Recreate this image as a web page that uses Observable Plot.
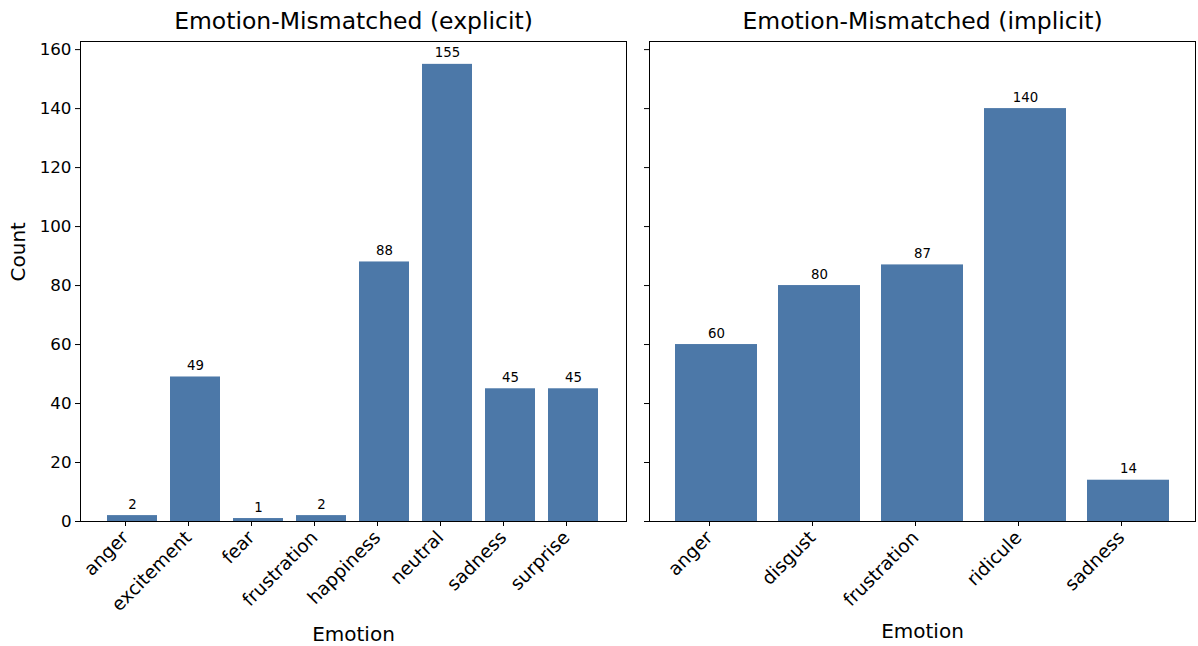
<!DOCTYPE html>
<html>
<head>
<meta charset="utf-8">
<script src="https://cdn.jsdelivr.net/npm/d3@7"></script>
<script src="https://cdn.jsdelivr.net/npm/@observablehq/plot@0.6"></script>
<style>
  html, body { margin: 0; padding: 0; background: #fff; }
  #wrap { position: relative; width: 1198px; height: 646px; font-family: "DejaVu Sans", sans-serif; }
  #left, #right { position: absolute; top: 0; }
  #left { left: 0; }
  #right { left: 632px; }
  svg { font-family: "DejaVu Sans", sans-serif; }
</style>
</head>
<body>
<div id="wrap"><div id="left"></div><div id="right"></div></div>
<script>
const explicitEmotions = ["anger","excitement","fear","frustration","happiness","neutral","sadness","surprise"];
const explicitCounts = [2, 49, 1, 2, 88, 155, 45, 45];
const implicitEmotions = ["anger","disgust","frustration","ridicule","sadness"];
const implicitCounts = [60, 80, 87, 140, 14];
const yTicks = [0, 20, 40, 60, 80, 100, 120, 140, 160];
const titles = ["Emotion-Mismatched (explicit)", "Emotion-Mismatched (implicit)"];

const barColor = "#4c78a8";
const yMax = d3.max([...explicitCounts, ...implicitCounts]) * 1.05;

function panel({cats, counts, title, width, marginLeft, marginRight, paddingOuter, showY, xLabelDy}) {
  const data = cats.map((c, i) => ({emotion: c, count: counts[i]}));
  const marks = [
    Plot.barY(data, {x: "emotion", y: "count", fill: barColor}),
    Plot.text(data, {x: "emotion", y: "count", text: d => String(d.count), lineAnchor: "bottom", dy: -7, fontSize: 13.3, fill: "#000"}),
    Plot.frame({stroke: "#000", strokeWidth: 1}),
    Plot.axisX({tickRotate: -45, tickSize: 5, tickPadding: 8, dx: -7, fontSize: 18.5, label: null, stroke: "#000", fill: "#000"}),
    Plot.axisY({ticks: yTicks, tickSize: 5, tickPadding: 4, fontSize: 16.7, label: null, tickFormat: showY ? d => String(d) : () => "", stroke: "#000", fill: "#000"}),
    Plot.text([title], {frameAnchor: "top", lineAnchor: "middle", dy: -20, fontSize: 23.5, fill: "#000", text: d => d}),
    Plot.text(["Emotion"], {frameAnchor: "bottom", dy: xLabelDy, fontSize: 20, fill: "#000", text: d => d})
  ];
  if (showY) marks.push(Plot.text(["Count"], {frameAnchor: "left", dx: -62, rotate: -90, fontSize: 20, fill: "#000", text: d => d}));
  return Plot.plot({
    width, height: 646,
    marginTop: 41, marginBottom: 125, marginLeft, marginRight,
    style: {fontFamily: "DejaVu Sans, sans-serif", color: "#000", background: "#fff"},
    x: {domain: cats, paddingInner: 0.2, paddingOuter, align: 0.5},
    y: {domain: [0, yMax]},
    marks
  });
}

document.getElementById("left").appendChild(panel({
  cats: explicitEmotions, counts: explicitCounts, title: titles[0],
  width: 632, marginLeft: 80, marginRight: 6, paddingOuter: 0.39, showY: true, xLabelDy: 119
}));
document.getElementById("right").appendChild(panel({
  cats: implicitEmotions, counts: implicitCounts, title: titles[1],
  width: 566, marginLeft: 17, marginRight: 3, paddingOuter: 0.24, showY: false, xLabelDy: 116
}));
</script>
</body>
</html>
